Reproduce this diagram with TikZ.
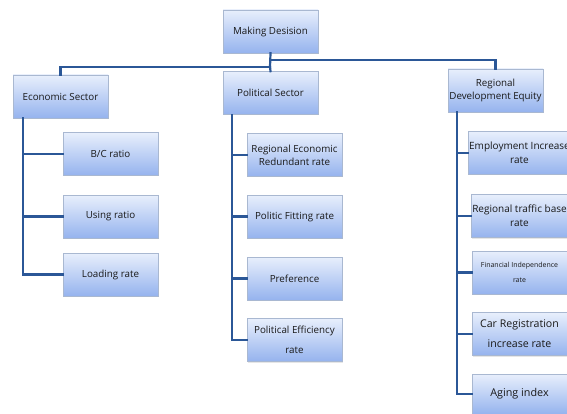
\documentclass[tikz,border=0pt]{standalone}
\usepackage{fontspec}
\setmainfont{Open Sans}
\usetikzlibrary{shadows}
\definecolor{linec}{HTML}{2B5797}
\definecolor{boxtop}{HTML}{E8EFFC}
\definecolor{boxbot}{HTML}{95B3EE}
\definecolor{boxdraw}{HTML}{A9B8D1}
\tikzset{
  box/.style={draw=boxdraw, line width=0.6pt, top color=boxtop, bottom color=boxbot,
    minimum width=95pt, minimum height=43pt, inner sep=1pt, align=center,
    font=\fontsize{9.8}{13}\selectfont, text=black!90,
    drop shadow={opacity=0.2, shadow xshift=1pt, shadow yshift=-1pt}},
  conn/.style={draw=linec, line width=2.2pt, line cap=rect}
}
\begin{document}
\begin{tikzpicture}[x=1pt,y=-1pt]
\useasboundingbox (0,0) rectangle (567,414);
\begin{scope}
\clip (0,0) rectangle (567,414);
\coordinate (ecoV) at (23,118);
\coordinate (polV) at (232,114);
\coordinate (regV) at (457,112);
% boxes
\node[box] (top) at (270.5,31.5) {Making Desision};
\node[box] (eco) at (60.5,96.5) {Economic Sector};
\node[box] (pol) at (270.5,93) {Political Sector};
\node[box] (reg) at (495.5,90.5) {Regional\\Development Equity};

\node[box] (e1) at (110.5,154) {B/C ratio};
\node[box] (e2) at (110.5,216.5) {Using ratio};
\node[box] (e3) at (110.5,274.5) {Loading rate};

\node[box] (p1) at (294.5,155) {Regional Economic\\Redundant rate};
\node[box] (p2) at (294.5,216.5) {Politic Fitting rate};
\node[box] (p3) at (294.5,278.5) {Preference};
\node[box, font=\fontsize{9.8}{20}\selectfont] (p4) at (294.5,340) {Political Efficiency\\rate};

\node[box, font=\fontsize{10}{14}\selectfont] (r1) at (519.5,153) {Employment Increase\\rate};
\node[box, font=\fontsize{10}{14}\selectfont] (r2) at (519.5,216) {Regional traffic base\\rate};
\node[box, font=\fontsize{7}{15}\selectfont] (r3) at (519.5,272.5) {Financial Independence\\rate};
\node[box, font=\fontsize{10.6}{20}\selectfont] (r4) at (519.5,334) {Car Registration\\increase rate};
\node[box, font=\fontsize{10.8}{13}\selectfont, minimum height=40pt] (r5) at (519.5,394) {Aging index};

% top connectors
\coordinate (jL) at (270,67);
\coordinate (jR) at (270,60);
\draw[conn] (top.south) -- (jL);
\draw[conn] (jL) -| (eco.north);
\draw[conn] (jL) -- (pol.north);
\draw[conn] (jR) -| (reg.north);

% economic children
\draw[conn] (eco.south -| ecoV) |- (e3.west);
\draw[conn] (ecoV |- e1.west) -- (e1.west);
\draw[conn] (ecoV |- e2.west) -- (e2.west);

% political children
\draw[conn] (pol.south -| polV) |- (p4.west);
\draw[conn] (polV |- p1.west) -- (p1.west);
\draw[conn] (polV |- p2.west) -- (p2.west);
\draw[conn] (polV |- p3.west) -- (p3.west);

% regional children
\draw[conn] (reg.south -| regV) |- (r5.west);
\draw[conn] (regV |- r1.west) -- (r1.west);
\draw[conn] (regV |- r2.west) -- (r2.west);
\draw[conn] (regV |- r3.west) -- (r3.west);
\draw[conn] (regV |- r4.west) -- (r4.west);
\end{scope}
\end{tikzpicture}
\end{document}
